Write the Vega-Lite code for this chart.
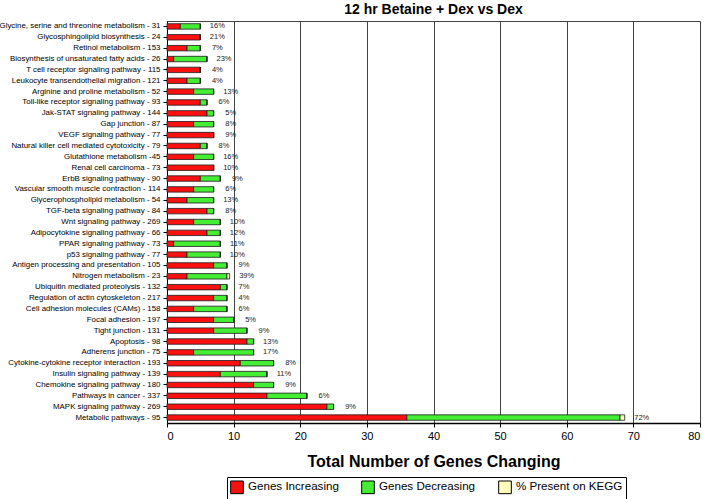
{
  "$schema": "https://vega.github.io/schema/vega-lite/v6.json",
  "width": 533,
  "height": 402,
  "autosize": {"type": "none"},
  "padding": {"left": 167, "top": 21, "right": 7, "bottom": 76},
  "background": "white",
  "config": {
    "font": "Liberation Sans",
    "view": {"stroke": "#444", "strokeWidth": 1}
  },
  "title": {"text": "12 hr Betaine + Dex vs Dex", "fontSize": 14, "fontWeight": "bold", "font": "Liberation Sans", "anchor": "middle", "offset": 4, "color": "#000"},
  "data": {
    "values": [
      {"pathway": "Glycine, serine and threonine metabolism - 31", "Genes Increasing": 2, "Genes Decreasing": 3, "% Present on KEGG": 0, "pct": "16%"},
      {"pathway": "Glycosphingolipid biosynthesis - 24", "Genes Increasing": 5, "Genes Decreasing": 0, "% Present on KEGG": 0, "pct": "21%"},
      {"pathway": "Retinol metabolism - 153", "Genes Increasing": 3, "Genes Decreasing": 2, "% Present on KEGG": 0, "pct": "7%"},
      {"pathway": "Biosynthesis of unsaturated fatty acids - 26", "Genes Increasing": 1, "Genes Decreasing": 5, "% Present on KEGG": 0, "pct": "23%"},
      {"pathway": "T cell receptor signaling pathway - 115", "Genes Increasing": 5, "Genes Decreasing": 0, "% Present on KEGG": 0, "pct": "4%"},
      {"pathway": "Leukocyte transendothelial migration - 121", "Genes Increasing": 3, "Genes Decreasing": 2, "% Present on KEGG": 0, "pct": "4%"},
      {"pathway": "Arginine and proline metabolism - 52", "Genes Increasing": 4, "Genes Decreasing": 3, "% Present on KEGG": 0, "pct": "13%"},
      {"pathway": "Toll-like receptor signaling pathway - 93", "Genes Increasing": 5, "Genes Decreasing": 1, "% Present on KEGG": 0, "pct": "6%"},
      {"pathway": "Jak-STAT signaling pathway - 144", "Genes Increasing": 6, "Genes Decreasing": 1, "% Present on KEGG": 0, "pct": "5%"},
      {"pathway": "Gap junction - 87", "Genes Increasing": 4, "Genes Decreasing": 3, "% Present on KEGG": 0, "pct": "8%"},
      {"pathway": "VEGF signaling pathway - 77", "Genes Increasing": 7, "Genes Decreasing": 0, "% Present on KEGG": 0, "pct": "9%"},
      {"pathway": "Natural killer cell mediated cytotoxicity - 79", "Genes Increasing": 5, "Genes Decreasing": 1, "% Present on KEGG": 0, "pct": "8%"},
      {"pathway": "Glutathione metabolism -45", "Genes Increasing": 4, "Genes Decreasing": 3, "% Present on KEGG": 0, "pct": "16%"},
      {"pathway": "Renal cell carcinoma - 73", "Genes Increasing": 7, "Genes Decreasing": 0, "% Present on KEGG": 0, "pct": "10%"},
      {"pathway": "ErbB signaling pathway - 90", "Genes Increasing": 5, "Genes Decreasing": 3, "% Present on KEGG": 0, "pct": "9%"},
      {"pathway": "Vascular smooth muscle contraction - 114", "Genes Increasing": 4, "Genes Decreasing": 3, "% Present on KEGG": 0, "pct": "6%"},
      {"pathway": "Glycerophospholipid metabolism - 54", "Genes Increasing": 3, "Genes Decreasing": 4, "% Present on KEGG": 0, "pct": "13%"},
      {"pathway": "TGF-beta signaling pathway - 84", "Genes Increasing": 6, "Genes Decreasing": 1, "% Present on KEGG": 0, "pct": "8%"},
      {"pathway": "Wnt signaling pathway - 269", "Genes Increasing": 4, "Genes Decreasing": 4, "% Present on KEGG": 0, "pct": "10%"},
      {"pathway": "Adipocytokine signaling pathway - 66", "Genes Increasing": 6, "Genes Decreasing": 2, "% Present on KEGG": 0, "pct": "12%"},
      {"pathway": "PPAR signaling pathway - 73", "Genes Increasing": 1, "Genes Decreasing": 7, "% Present on KEGG": 0, "pct": "11%"},
      {"pathway": "p53 signaling pathway - 77", "Genes Increasing": 3, "Genes Decreasing": 5, "% Present on KEGG": 0, "pct": "10%"},
      {"pathway": "Antigen processing and presentation - 105", "Genes Increasing": 7, "Genes Decreasing": 2, "% Present on KEGG": 0, "pct": "9%"},
      {"pathway": "Nitrogen metabolism - 23", "Genes Increasing": 3, "Genes Decreasing": 6, "% Present on KEGG": 0.4, "pct": "39%"},
      {"pathway": "Ubiquitin mediated proteolysis - 132", "Genes Increasing": 8, "Genes Decreasing": 1, "% Present on KEGG": 0, "pct": "7%"},
      {"pathway": "Regulation of actin cytoskeleton - 217", "Genes Increasing": 7, "Genes Decreasing": 2, "% Present on KEGG": 0, "pct": "4%"},
      {"pathway": "Cell adhesion molecules (CAMs) - 158", "Genes Increasing": 4, "Genes Decreasing": 5, "% Present on KEGG": 0, "pct": "6%"},
      {"pathway": "Focal adhesion - 197", "Genes Increasing": 7, "Genes Decreasing": 3, "% Present on KEGG": 0, "pct": "5%"},
      {"pathway": "Tight junction - 131", "Genes Increasing": 7, "Genes Decreasing": 5, "% Present on KEGG": 0, "pct": "9%"},
      {"pathway": "Apoptosis - 98", "Genes Increasing": 12, "Genes Decreasing": 1, "% Present on KEGG": 0, "pct": "13%"},
      {"pathway": "Adherens junction - 75", "Genes Increasing": 4, "Genes Decreasing": 9, "% Present on KEGG": 0, "pct": "17%"},
      {"pathway": "Cytokine-cytokine receptor interaction - 193", "Genes Increasing": 11, "Genes Decreasing": 5, "% Present on KEGG": 0, "pct": "8%"},
      {"pathway": "Insulin signaling pathway - 139", "Genes Increasing": 8, "Genes Decreasing": 7, "% Present on KEGG": 0, "pct": "11%"},
      {"pathway": "Chemokine signaling pathway - 180", "Genes Increasing": 13, "Genes Decreasing": 3, "% Present on KEGG": 0, "pct": "9%"},
      {"pathway": "Pathways in cancer - 337", "Genes Increasing": 15, "Genes Decreasing": 6, "% Present on KEGG": 0, "pct": "6%"},
      {"pathway": "MAPK signaling pathway - 269", "Genes Increasing": 24, "Genes Decreasing": 1, "% Present on KEGG": 0, "pct": "9%"},
      {"pathway": "Metabolic pathways - 95", "Genes Increasing": 36, "Genes Decreasing": 32, "% Present on KEGG": 0.7, "pct": "72%"}
    ]
  },
  "transform": [
    {"fold": ["Genes Increasing", "Genes Decreasing", "% Present on KEGG"], "as": ["key", "value"]},
    {"joinaggregate": [{"op": "sum", "field": "value", "as": "total"}], "groupby": ["pathway"]}
  ],
  "encoding": {
    "y": {
      "field": "pathway", "type": "nominal", "sort": null,
      "scale": {"paddingInner": 0.5, "paddingOuter": 0.25},
      "axis": {"title": null, "labelFontSize": 7.9, "labelColor": "#000", "labelLimit": 300, "labelPadding": 3, "ticks": true, "tickSize": 4, "tickColor": "#000", "domainColor": "#000", "domainWidth": 1, "grid": false}
    }
  },
  "layer": [
    {
      "mark": {"type": "bar", "stroke": "#1a1a1a", "strokeWidth": 0.8},
      "encoding": {
        "x": {
          "field": "value", "type": "quantitative", "stack": "zero",
          "scale": {"domain": [0, 80], "nice": false},
          "axis": {"values": [0, 10, 20, 30, 40, 50, 60, 70, 80], "grid": true, "gridColor": "#444", "gridWidth": 1, "domainColor": "#000", "domainWidth": 1.5, "tickColor": "#000", "tickSize": 4, "labelFontSize": 11, "labelColor": "#000", "labelPadding": 3, "title": "Total Number of Genes Changing", "titleFontSize": 16, "titleFontWeight": "bold", "titleColor": "#000", "titlePadding": 12}
        },
        "color": {
          "field": "key", "type": "nominal",
          "scale": {"domain": ["Genes Increasing", "Genes Decreasing", "% Present on KEGG"], "range": ["#ff1010", "#44ee33", "#ffffbb"]},
          "legend": {"orient": "none", "legendX": 60, "legendY": 456, "direction": "horizontal", "title": null, "strokeColor": "#000", "padding": 3, "symbolType": "square", "symbolSize": 160, "symbolStrokeColor": "#000", "symbolStrokeWidth": 1, "labelFontSize": 11.6, "labelColor": "#000", "columnPadding": 20, "labelOffset": 4}
        },
        "order": {"field": "key", "sort": "descending"}
      }
    },
    {
      "transform": [{"filter": "datum.key == 'Genes Increasing'"}],
      "mark": {"type": "text", "align": "center", "dx": 17, "fontSize": 7.5, "color": "#222"},
      "encoding": {
        "x": {"field": "total", "type": "quantitative"},
        "text": {"field": "pct"}
      }
    }
  ]
}
